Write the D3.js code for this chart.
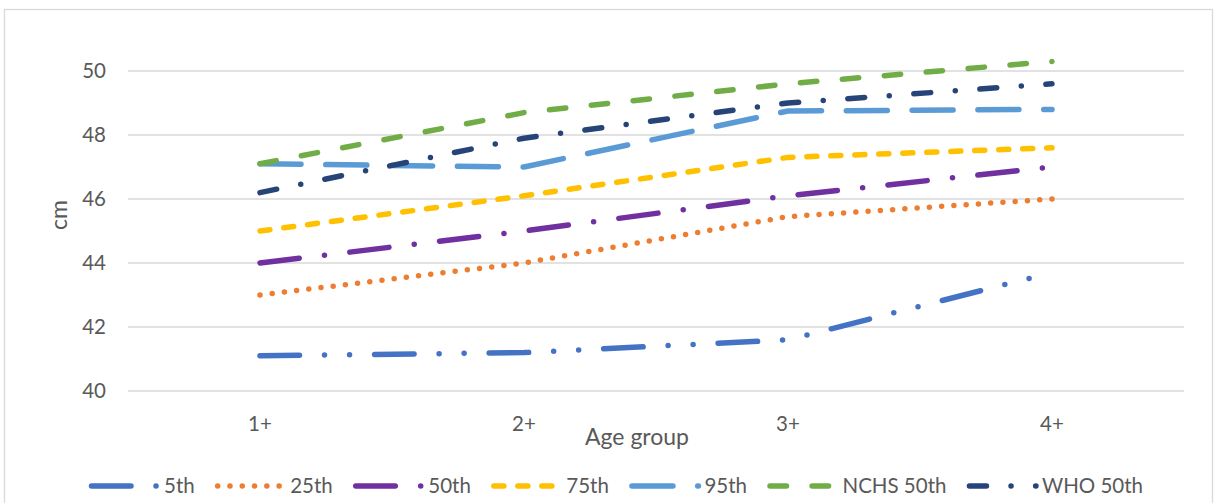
<!DOCTYPE html>
<html>
<head>
<meta charset="utf-8">
<script src="https://cdn.jsdelivr.net/npm/d3@7"></script>
<style>
  html, body { margin: 0; padding: 0; background: #ffffff; }
  svg { display: block; }
  text { font-family: Lato, "Liberation Sans", sans-serif; fill: #595959; }
</style>
</head>
<body>
<svg id="chart" width="1216" height="503"></svg>
<script>
// Head circumference by age group (cm)
const ageGroups = ["1+", "2+", "3+", "4+"];
const seriesNames = ["5th", "25th", "50th", "75th", "95th", "NCHS 50th", "WHO 50th"];
const p5   = [41.1, 41.2, 41.6, 43.7];
const p25  = [43.0, 44.0, 45.45, 46.0];
const p50  = [44.0, 45.0, 46.1, 47.0];
const p75  = [45.0, 46.1, 47.3, 47.6];
const p95  = [47.1, 47.0, 48.75, 48.8];
const nchs50 = [47.1, 48.7, 49.6, 50.3];
const who50  = [46.2, 47.9, 49.0, 49.6];
const yTicks = [40, 42, 44, 46, 48, 50];

const seriesValues = [p5, p25, p50, p75, p95, nchs50, who50];
const colors = ["#4472C4", "#ED7D31", "#7030A0", "#FFC000", "#5B9BD5", "#70AD47", "#264478"];
// dash patterns drawn with round caps
const dashes = [
  "39.5 25.03 0 25.03 0 25.03", // long dash dot dot
  "0 12.285",                  // round dots
  "39.5 25.45 0 25.45",        // long dash dot
  "10 14",                     // dash
  "41 24.8",                   // long dash
  "16.5 25.57",                // dash
  "17 24.6 0 24.6"             // dash dot
];
const lineW = 5.5;

const svg = d3.select("#chart");

// outer chart frame
svg.append("rect")
  .attr("x", 4.5).attr("y", 9.5)
  .attr("width", 1208).attr("height", 520)
  .attr("fill", "none").attr("stroke", "#d9d9d9").attr("stroke-width", 1.3);

const x = d3.scaleBand().domain(ageGroups).range([128, 1184]);
const y = d3.scaleLinear().domain([40, 50]).range([391, 71]);
const cx = d => x(d) + x.bandwidth() / 2;

// horizontal gridlines
svg.append("g").selectAll("line").data(yTicks).join("line")
  .attr("x1", 128).attr("x2", 1184)
  .attr("y1", d => y(d)).attr("y2", d => y(d))
  .attr("stroke", "#d9d9d9").attr("stroke-width", 1.5);

// y axis tick labels
const yAxis = d3.axisLeft(y).tickValues(yTicks).tickSize(0).tickPadding(0);
const gy = svg.append("g").attr("transform", "translate(106,0)").call(yAxis);
gy.select(".domain").remove();
gy.selectAll("text").attr("font-size", 20.5).attr("fill", "#595959")
  .style("font-family", "Lato, 'Liberation Sans', sans-serif");

// x axis category labels
const xAxis = d3.axisBottom(x).tickSize(0).tickPadding(0);
const gx = svg.append("g").attr("transform", "translate(0,416)").call(xAxis);
gx.select(".domain").remove();
gx.selectAll("text").attr("font-size", 20.5).attr("fill", "#595959")
  .style("font-family", "Lato, 'Liberation Sans', sans-serif");

// axis titles
svg.append("text").attr("x", 637).attr("y", 445)
  .attr("text-anchor", "middle").attr("font-size", 23).text("Age group");
svg.append("text")
  .attr("transform", "translate(67,215) rotate(-90)")
  .attr("text-anchor", "middle").attr("font-size", 23).text("cm");

// series lines
const line = d3.line().x((d, i) => cx(ageGroups[i])).y(d => y(d));
svg.append("g").selectAll("path").data(seriesValues).join("path")
  .attr("d", d => line(d))
  .attr("fill", "none")
  .attr("stroke", (d, i) => colors[i])
  .attr("stroke-width", lineW)
  .attr("stroke-linecap", "round")
  .attr("stroke-linejoin", "round")
  .attr("stroke-dasharray", (d, i) => dashes[i]);

// legend
const legend = svg.append("g");
const sampleLen = 66.5, textGap = 6, itemGap = 23, legendY = 486, legendX = 91.5;
const items = legend.selectAll("g").data(seriesNames).join("g");
items.append("line")
  .attr("x1", 0).attr("x2", sampleLen).attr("y1", 0).attr("y2", 0)
  .attr("stroke", (d, i) => colors[i])
  .attr("stroke-width", lineW)
  .attr("stroke-linecap", "round")
  .attr("stroke-dasharray", (d, i) => dashes[i]);
items.append("text")
  .attr("x", sampleLen + textGap).attr("y", 0).attr("dy", "0.35em")
  .attr("font-size", 20.5).text(d => d);

let offset = 0;
const starts = [];
items.each(function () {
  const w = d3.select(this).select("text").node().getComputedTextLength();
  starts.push(offset);
  offset += sampleLen + textGap + w + itemGap;
});
items.attr("transform", (d, i) => `translate(${legendX + starts[i]},${legendY})`);
</script>
</body>
</html>
